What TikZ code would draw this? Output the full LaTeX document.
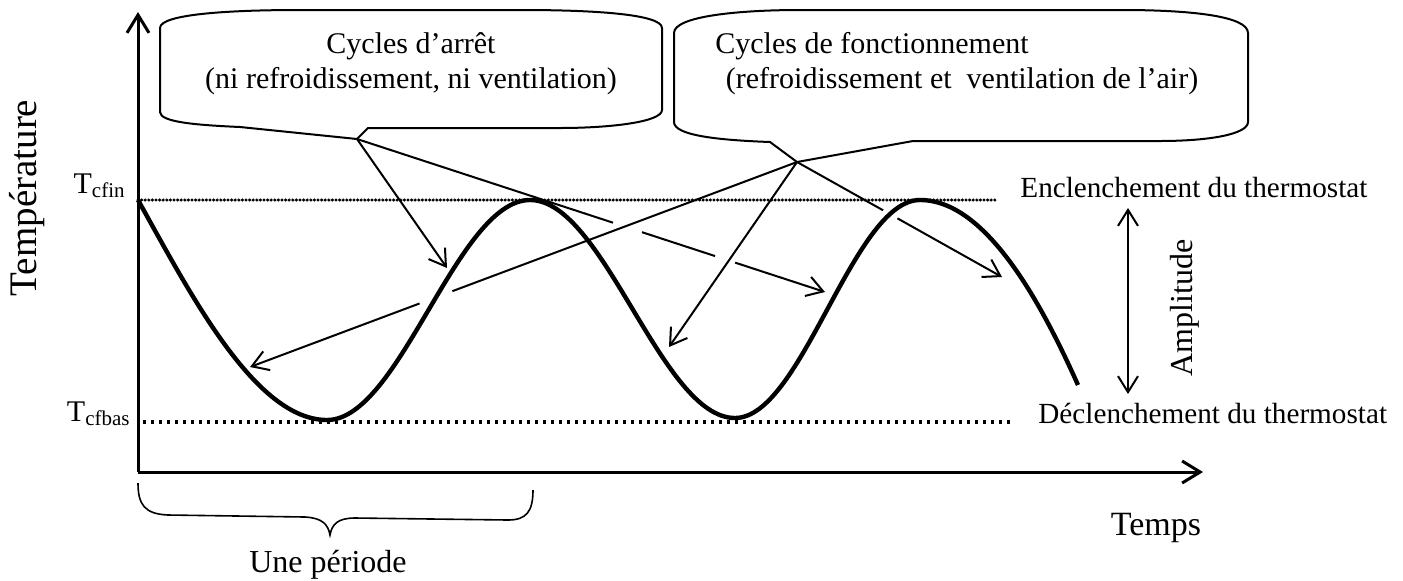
\documentclass[tikz,border=0pt]{standalone}
\usepackage{fontspec}
\setmainfont{Liberation Serif}
\usepackage{tikz}
\usetikzlibrary{arrows.meta, calc}

\begin{document}
\begin{tikzpicture}[x=0.5pt, y=-0.5pt,
    ligne/.style={line width=1pt},
    barb/.style={ligne, -{Straight Barb[length=8pt, width=10pt]}},
    axe/.style={line width=1.5pt, -{Straight Barb[length=9pt, width=11pt]}},
    bulle/.style={line width=1pt, line join=round},
    lbl/.style={inner sep=0pt, font=\fontsize{15}{17.5}\selectfont}]
    \useasboundingbox (0,0) rectangle (1403,580);
    % Reference points
    \coordinate (O) at (138,472);
    \coordinate (ytop) at (138,12);
    \coordinate (xend) at (1203,472);
    \coordinate (finG) at (138,200);
    \coordinate (finD) at (997,200);
    \coordinate (basG) at (143,422);
    \coordinate (basD) at (1010,422);
    \coordinate (queueArret) at (357,139);
    \coordinate (queueFonct) at (797,162);
    \coordinate (cibleA) at (447,268);
    \coordinate (cibleB) at (825,292);
    \coordinate (cibleC) at (250,367);
    \coordinate (cibleD) at (669,347);
    \coordinate (cibleE) at (1002,277);
    \coordinate (ampHaut) at (1128,208);
    \coordinate (ampBas) at (1128,394);

    % Callout: off cycles
    \draw[bulle] (160,28) .. controls (160,14) and (230,10) .. (300,10) -- (522,10)
        .. controls (592,10) and (662,14) .. (662,28) -- (662,110)
        .. controls (662,122) and (610,128) .. (560,128) -- (368,128) -- (queueArret)
        -- (240,127) .. controls (195,125) and (160,122) .. (160,112) -- cycle;
    \node[lbl, align=center, anchor=north] (arret) at (411,32)
        {Cycles d’arrêt\\(ni refroidissement, ni ventilation)};

    % Callout: running cycles
    \draw[bulle] (674,33) .. controls (674,16) and (740,10) .. (800,10) -- (1122,10)
        .. controls (1190,10) and (1248,16) .. (1248,33) -- (1248,122)
        .. controls (1248,134) and (1210,141) .. (1160,141) -- (913,141) -- (queueFonct)
        -- (770,142) .. controls (715,140) and (674,135) .. (674,122) -- cycle;
    \node[lbl, align=left, anchor=north west] (fonct) at (715,32)
        {Cycles de fonctionnement\\\hspace*{0.35em}(refroidissement et\ \ ventilation de l’air)};

    % Pointers of the off-cycle callout (broken where the others cross)
    \draw[barb] (queueArret) -- (cibleA);
    \draw[ligne] (queueArret) -- ($(queueArret)!0.547!(cibleB)$);
    \draw[ligne] ($(queueArret)!0.609!(cibleB)$) -- ($(queueArret)!0.765!(cibleB)$);
    \draw[barb] ($(queueArret)!0.808!(cibleB)$) -- (cibleB);

    % Pointers of the running-cycle callout (broken at the curve)
    \draw[ligne] (queueFonct) -- ($(queueFonct)!0.63!(cibleC)$);
    \draw[barb] ($(queueFonct)!0.69!(cibleC)$) -- (cibleC);
    \draw[barb] (queueFonct) -- (cibleD);
    \draw[ligne] (queueFonct) -- ($(queueFonct)!0.42!(cibleE)$);
    \draw[barb] ($(queueFonct)!0.49!(cibleE)$) -- (cibleE);

    % Temperature curve
    \draw[line width=2.2pt] (finG) .. controls (190,293) and (255,420) .. (327,420)
        .. controls (400,420) and (457,200) .. (530,200)
        .. controls (604,200) and (661,418) .. (735,418)
        .. controls (802,418) and (853,200) .. (920,200)
        .. controls (985,200) and (1040,300) .. (1078,385);

    % Thermostat limits
    \draw[line width=1.7pt, line cap=round, dash pattern=on 0pt off 1.8pt] (finG) -- (finD);
    \draw[line width=2pt, dash pattern=on 1.6pt off 2.4pt] (basG) -- (basD);

    % Axes
    \draw[axe] (O) -- (ytop);
    \draw[axe] (O) -- (xend);
    \draw[ligne, {Straight Barb[length=8pt, width=10pt]}-{Straight Barb[length=8pt, width=10pt]}] (ampHaut) -- (ampBas);

    % Labels
    \node[lbl, anchor=base east] (tcfin) at (126,193) {T\textsubscript{cfin}};
    \node[lbl, anchor=base east] (tcfbas) at (131,421) {T\textsubscript{cfbas}};
    \node[lbl, font=\fontsize{19.5}{22}\selectfont, rotate=90, anchor=base] (temperature) at (36,198) {Température};
    \node[lbl, font=\fontsize{17}{20}\selectfont, anchor=base] (temps) at (1156,535) {Temps};
    \node[lbl, font=\fontsize{14.6}{17}\selectfont, anchor=base west] (encl) at (1020,197) {Enclenchement du thermostat};
    \node[lbl, font=\fontsize{14.6}{17}\selectfont, anchor=base west] (decl) at (1038,423) {Déclenchement du thermostat};
    \node[lbl, font=\fontsize{16}{18}\selectfont, rotate=90, anchor=base] (ampl) at (1192,308) {Amplitude};

    % One period
    \draw[line width=0.8pt] (138,483) .. controls (138,505) and (145,514) .. (168,515) -- (305,517)
        .. controls (322,518) and (328,524) .. (330,535)
        .. controls (332,524) and (338,518) .. (355,518) -- (508,520)
        .. controls (526,520) and (533,512) .. (533,490);
    \node[lbl, font=\fontsize{16}{18}\selectfont, anchor=base] (periode) at (328,572) {Une période};
\end{tikzpicture}
\end{document}
